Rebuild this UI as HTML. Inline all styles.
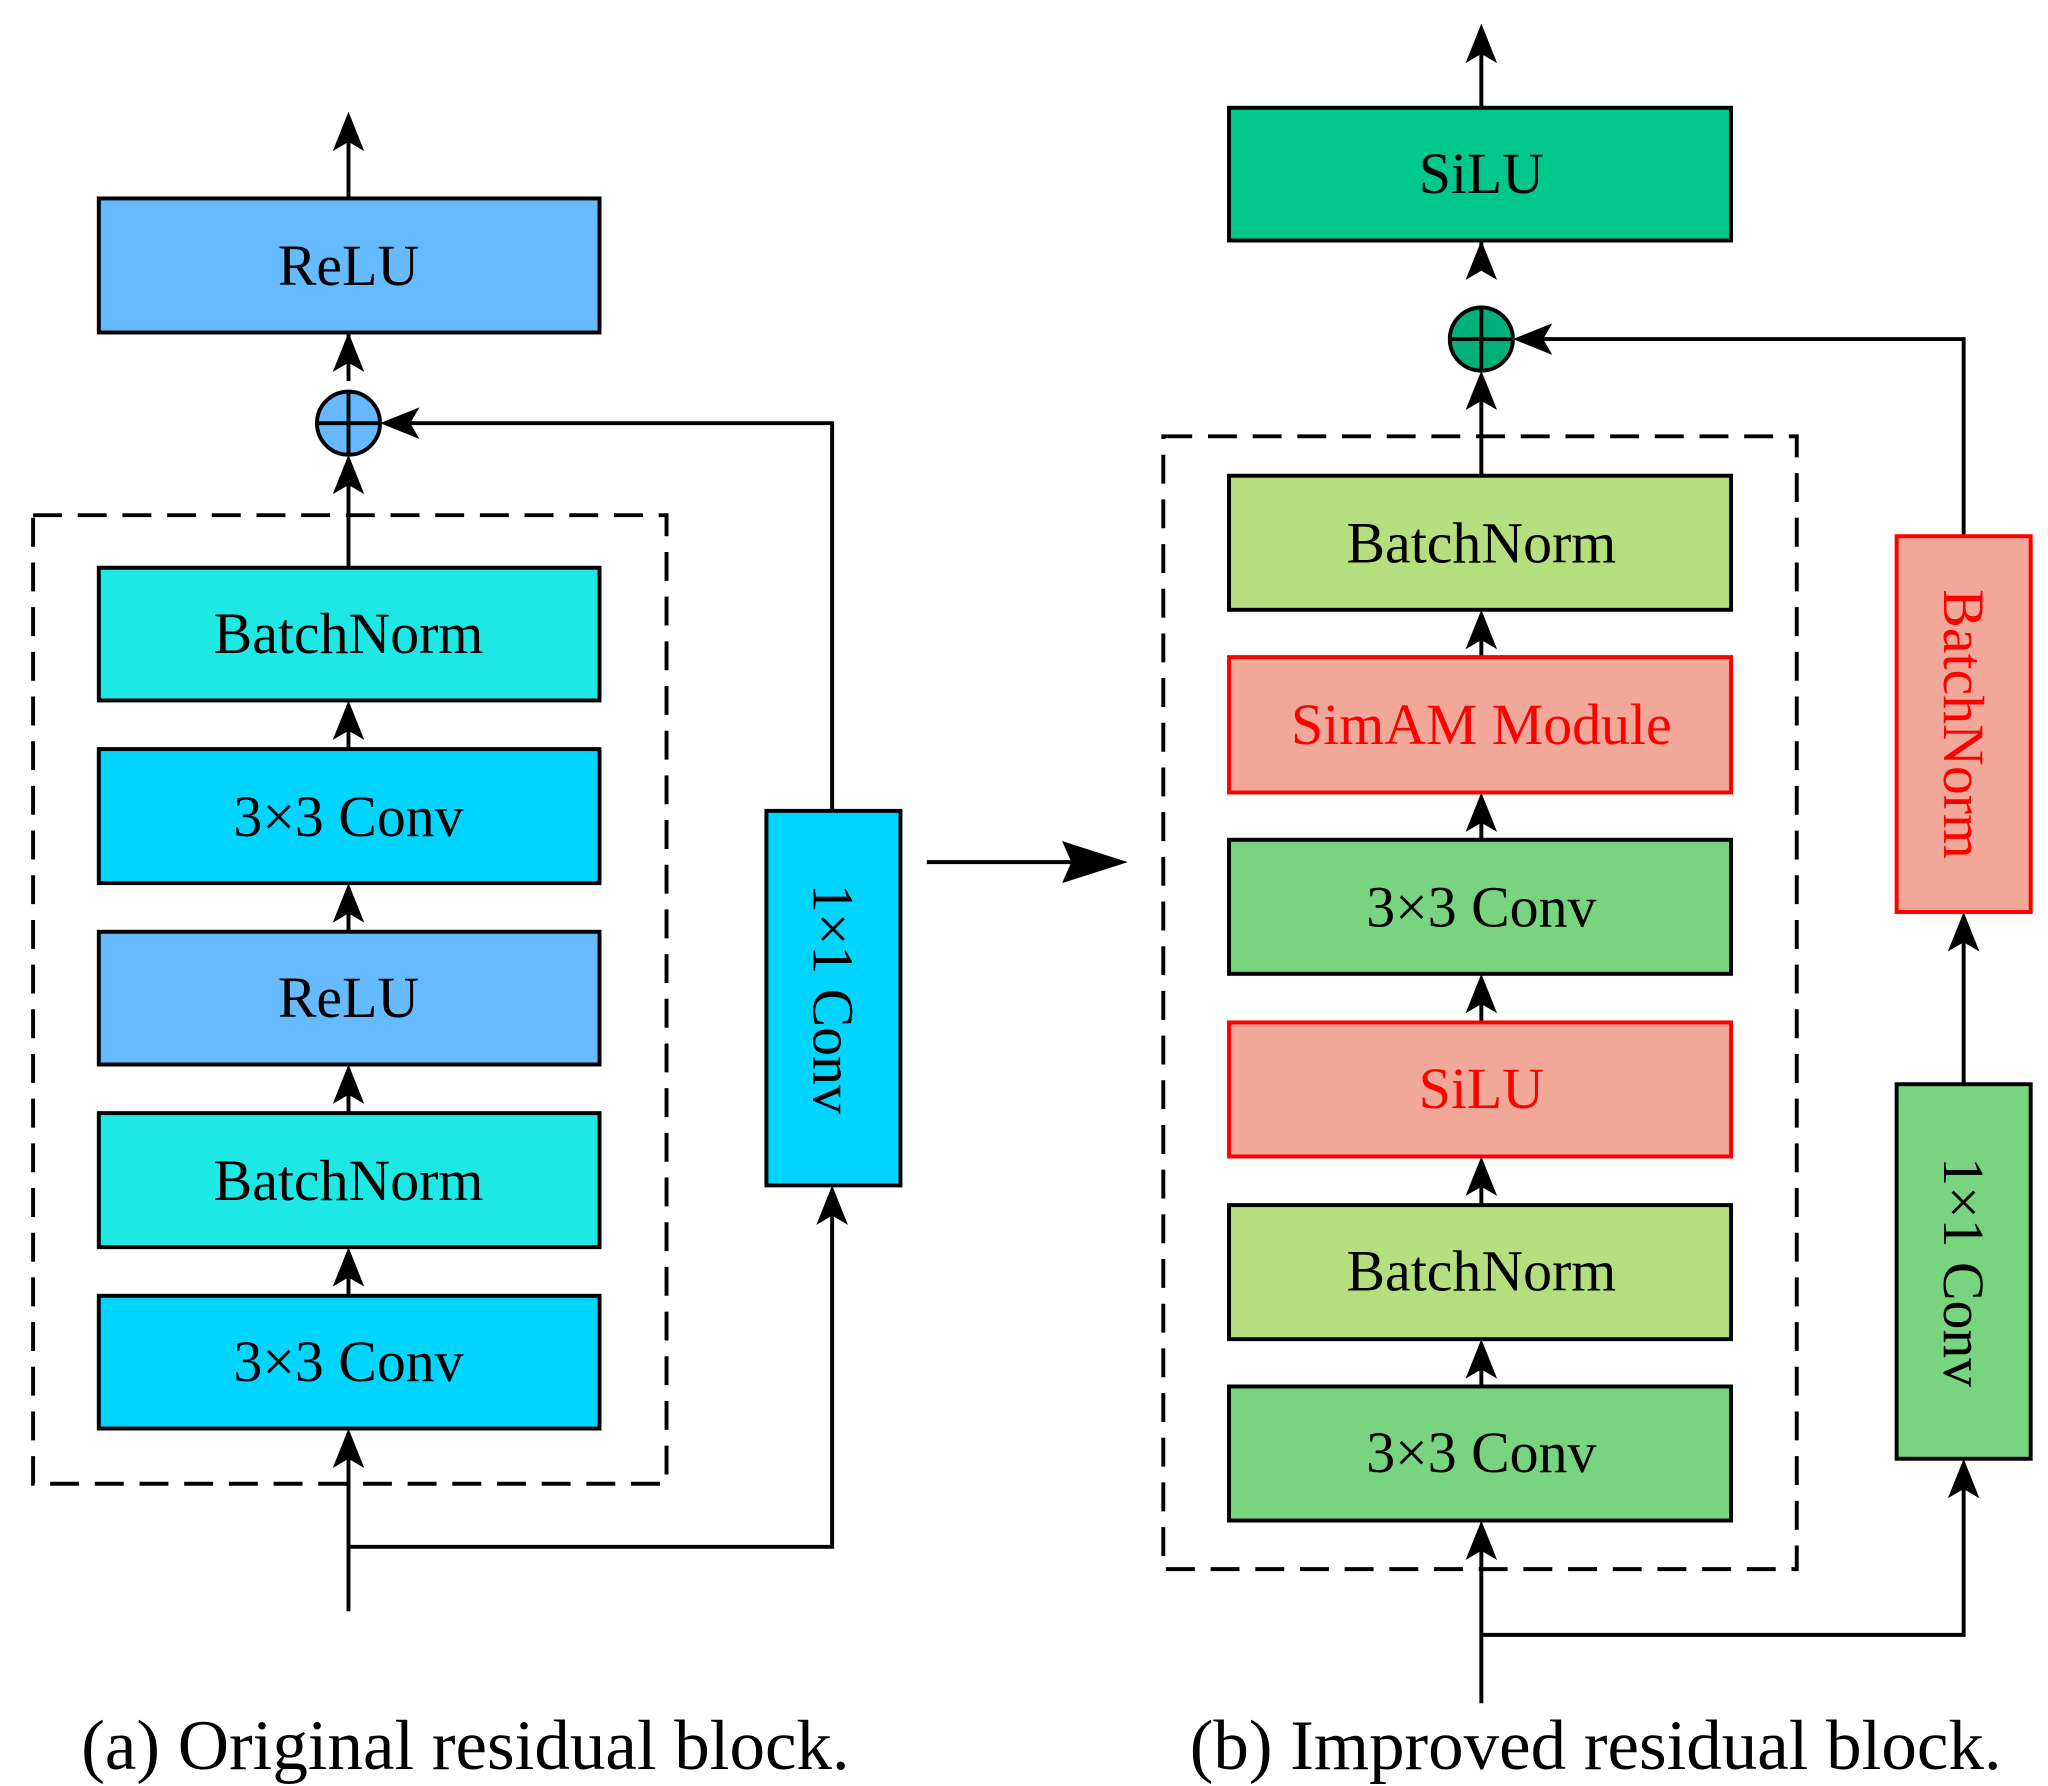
<!DOCTYPE html>
<html><head><meta charset="utf-8"><style>
html,body{margin:0;padding:0;background:#fff;}
svg{display:block;}
text{font-family:"Liberation Serif",serif;}
</style></head><body>
<svg width="2048" height="1786" viewBox="0 0 1558 1359" xmlns="http://www.w3.org/2000/svg">
<rect width="1558" height="1359" fill="#fff"/>
<g stroke="#000" stroke-width="3" fill="none">
<line x1="265" y1="151" x2="265" y2="100"/>
<line x1="265" y1="253" x2="265" y2="290"/>
<line x1="265" y1="432" x2="265" y2="355"/>
<line x1="265" y1="570" x2="265" y2="548"/>
<line x1="265" y1="709" x2="265" y2="687"/>
<line x1="265" y1="847" x2="265" y2="825"/>
<line x1="265" y1="986" x2="265" y2="964"/>
<line x1="265" y1="1226" x2="265" y2="1110"/>
<polyline points="265,1177 633,1177 633,925"/>
<polyline points="633,617 633,322 310,322"/>
<line x1="705" y1="656" x2="815" y2="656"/>
<line x1="1127" y1="82" x2="1127" y2="35"/>
<line x1="1127" y1="183" x2="1127" y2="200"/>
<line x1="1127" y1="362" x2="1127" y2="295"/>
<line x1="1127" y1="500" x2="1127" y2="480"/>
<line x1="1127" y1="639" x2="1127" y2="619"/>
<line x1="1127" y1="778" x2="1127" y2="758"/>
<line x1="1127" y1="917" x2="1127" y2="897"/>
<line x1="1127" y1="1055" x2="1127" y2="1035"/>
<line x1="1127" y1="1296" x2="1127" y2="1180"/>
<polyline points="1127,1244 1494,1244 1494,1130"/>
<line x1="1494" y1="825" x2="1494" y2="715"/>
<polyline points="1494,408 1494,258 1170,258"/>
<rect x="25" y="392" width="482" height="737" stroke-dasharray="22,12"/>
<rect x="885" y="332" width="482" height="862" stroke-dasharray="22,12"/>
</g>
<g fill="#000">
<polygon points="265,85 253,115 265,108 277,115"/>
<polygon points="265,253 253,283 265,276 277,283"/>
<polygon points="265,346 253,376 265,369 277,376"/>
<polygon points="265,533 253,563 265,556 277,563"/>
<polygon points="265,672 253,702 265,695 277,702"/>
<polygon points="265,810 253,840 265,833 277,840"/>
<polygon points="265,949 253,979 265,972 277,979"/>
<polygon points="265,1087 253,1117 265,1110 277,1117"/>
<polygon points="633,902 621,932 633,925 645,932"/>
<polygon points="289,322 319,310 312,322 319,334"/>
<polygon points="858,656 808,640 815,656 808,672"/>
<polygon points="1127,18 1115,48 1127,41 1139,48"/>
<polygon points="1127,183 1115,213 1127,206 1139,213"/>
<polygon points="1127,282 1115,312 1127,305 1139,312"/>
<polygon points="1127,464 1115,494 1127,487 1139,494"/>
<polygon points="1127,603 1115,633 1127,626 1139,633"/>
<polygon points="1127,741 1115,771 1127,764 1139,771"/>
<polygon points="1127,880 1115,910 1127,903 1139,910"/>
<polygon points="1127,1019 1115,1049 1127,1042 1139,1049"/>
<polygon points="1127,1157 1115,1187 1127,1180 1139,1187"/>
<polygon points="1494,1110 1482,1140 1494,1133 1506,1140"/>
<polygon points="1494,694 1482,724 1494,717 1506,724"/>
<polygon points="1151,258 1181,246 1174,258 1181,270"/>
</g>
<g stroke="#000" stroke-width="3">
<rect x="75" y="151" width="381" height="102" fill="#66bbff"/>
<rect x="75" y="432" width="381" height="101" fill="#1de8e4"/>
<rect x="75" y="570" width="381" height="102" fill="#00d5ff"/>
<rect x="75" y="709" width="381" height="101" fill="#66bbff"/>
<rect x="75" y="847" width="381" height="102" fill="#1de8e4"/>
<rect x="75" y="986" width="381" height="101" fill="#00d5ff"/>
<rect x="583" y="617" width="102" height="285" fill="#00d5ff"/>
<circle cx="265" cy="322" r="24" fill="#66b8ff"/>
<line x1="241" y1="322" x2="289" y2="322"/><line x1="265" y1="298" x2="265" y2="346"/>
<rect x="935" y="82" width="382" height="101" fill="#00c78c"/>
<rect x="935" y="362" width="382" height="102" fill="#b5df7e"/>
<rect x="935" y="639" width="382" height="102" fill="#79d47f"/>
<rect x="935" y="917" width="382" height="102" fill="#b5df7e"/>
<rect x="935" y="1055" width="382" height="102" fill="#79d47f"/>
<rect x="1443" y="825" width="102" height="285" fill="#79d47f"/>
<circle cx="1127" cy="258" r="24" fill="#00b07a"/>
<line x1="1103" y1="258" x2="1151" y2="258"/><line x1="1127" y1="234" x2="1127" y2="282"/>
</g>
<g stroke="#ff0000" stroke-width="3" fill="#f2a898">
<rect x="935" y="500" width="382" height="103"/>
<rect x="935" y="778" width="382" height="102"/>
<rect x="1443" y="408" width="102" height="286"/>
</g>
<g font-size="44" text-anchor="middle" fill="#000">
<text x="265" y="217">ReLU</text>
<text x="265" y="497">BatchNorm</text>
<text x="265" y="636">3×3 Conv</text>
<text x="265" y="774">ReLU</text>
<text x="265" y="913">BatchNorm</text>
<text x="265" y="1051">3×3 Conv</text>
<text transform="translate(619,760) rotate(90)">1×1 Conv</text>
<text x="1127" y="147">SiLU</text>
<text x="1127" y="428">BatchNorm</text>
<text x="1127" y="566" fill="#ff0000">SimAM Module</text>
<text x="1127" y="705">3×3 Conv</text>
<text x="1127" y="843" fill="#ff0000">SiLU</text>
<text x="1127" y="982">BatchNorm</text>
<text x="1127" y="1120">3×3 Conv</text>
<text transform="translate(1479,968) rotate(90)">1×1 Conv</text>
<text transform="translate(1479,551) rotate(90)" fill="#ff0000">BatchNorm</text>
</g>
<g font-size="54" text-anchor="middle" fill="#000">
<text x="354" y="1346">(a) Original residual block.</text>
<text x="1214" y="1346">(b) Improved residual block.</text>
</g>
</svg>
</body></html>
